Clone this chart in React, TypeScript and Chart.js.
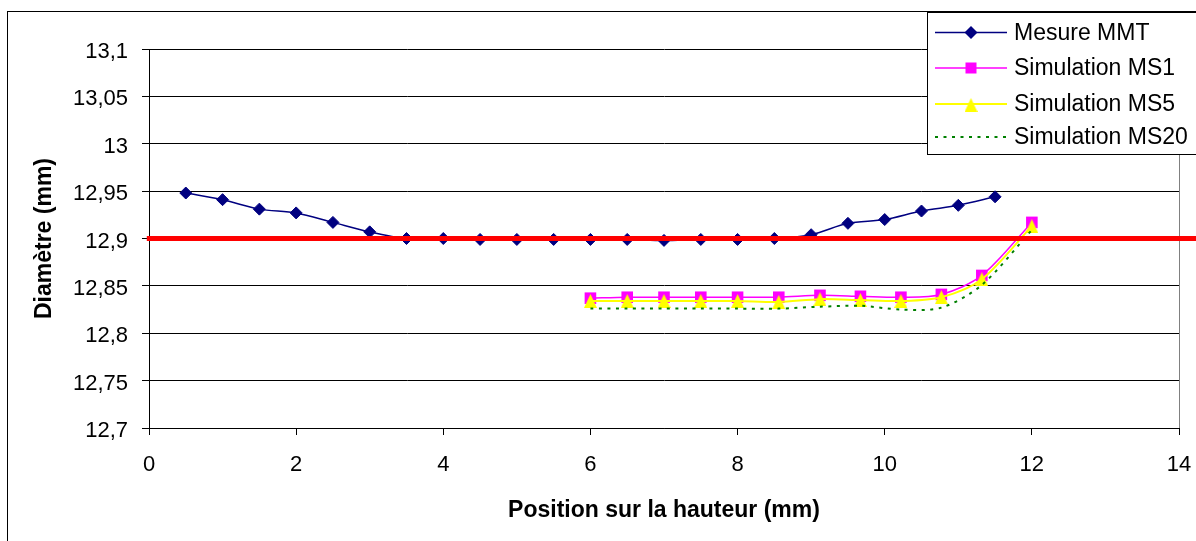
import React, { useEffect, useRef } from "react";
import { Chart, registerables } from "chart.js";

Chart.register(...registerables);

// ---- Data ----
const seriesLabels = ["Mesure MMT", "Simulation MS1", "Simulation MS5", "Simulation MS20"];
const xAxisTitle = "Position sur la hauteur (mm)";
const yAxisTitle = "Diamètre (mm)";

const mmtPositions = [0.5, 1, 1.5, 2, 2.5, 3, 3.5, 4, 4.5, 5, 5.5, 6, 6.5, 7, 7.5, 8, 8.5, 9, 9.5, 10, 10.5, 11, 11.5];
const mmtDiameters = [12.948, 12.941, 12.931, 12.927, 12.917, 12.907, 12.9, 12.9, 12.899, 12.899, 12.899, 12.899, 12.899, 12.898, 12.899, 12.899, 12.9, 12.904, 12.916, 12.92, 12.929, 12.935, 12.944];

const simPositions = [6, 6.5, 7, 7.5, 8, 8.56, 9.12, 9.67, 10.22, 10.77, 11.32, 12];
const ms1Diameters = [12.837, 12.838, 12.838, 12.838, 12.838, 12.838, 12.84, 12.839, 12.838, 12.841, 12.861, 12.917];
const ms5Diameters = [12.834, 12.834, 12.834, 12.834, 12.834, 12.833, 12.836, 12.835, 12.834, 12.838, 12.857, 12.913];
const ms20Diameters = [12.826, 12.826, 12.826, 12.826, 12.826, 12.826, 12.828, 12.829, 12.825, 12.827, 12.851, 12.909];

const referencePositions = [-0.03, 14.25];
const referenceDiameters = [12.9, 12.9];

const xTicks = [0, 2, 4, 6, 8, 10, 12, 14];
const yTicks = [12.7, 12.75, 12.8, 12.85, 12.9, 12.95, 13, 13.05, 13.1];

const FONT = "'Liberation Sans', Arial, sans-serif";

function toPoints(xs: number[], ys: number[]) {
  return xs.map((x, i) => ({ x, y: ys[i] }));
}

function makeTriangle(w: number, h: number, color: string) {
  const c = document.createElement("canvas");
  c.width = w;
  c.height = h;
  const ctx = c.getContext("2d")!;
  ctx.fillStyle = color;
  ctx.beginPath();
  ctx.moveTo(w / 2, 0);
  ctx.lineTo(w, h);
  ctx.lineTo(0, h);
  ctx.closePath();
  ctx.fill();
  return c;
}

const framePlugin = {
  id: "frame",
  beforeDatasetsDraw(chart: any) {
    const { ctx, chartArea } = chart;
    ctx.save();
    ctx.strokeStyle = "#808080";
    ctx.lineWidth = 1;
    ctx.beginPath();
    ctx.moveTo(Math.round(chartArea.right) + 0.5, chartArea.top);
    ctx.lineTo(Math.round(chartArea.right) + 0.5, chartArea.bottom);
    ctx.stroke();
    ctx.restore();
  },
  afterDraw(chart: any) {
    const { ctx } = chart;
    ctx.save();
    // outer chart border
    ctx.strokeStyle = "#000";
    ctx.lineWidth = 1;
    ctx.strokeRect(7.5, 11.5, 1300, 700);

    // legend
    const bx = 927.5, by = 12.5, bw = 400, bh = 142;
    ctx.fillStyle = "#fff";
    ctx.fillRect(bx, by, bw, bh);
    ctx.strokeStyle = "#000";
    ctx.strokeRect(bx, by, bw, bh);
    const rows = [32.5, 68, 104, 137];
    const datasets = chart.data.datasets.filter((d: any) => seriesLabels.includes(d.label));
    datasets.forEach((d: any, i: number) => {
      const y = rows[i];
      ctx.save();
      ctx.strokeStyle = d.borderColor;
      ctx.lineWidth = d.borderWidth;
      ctx.setLineDash(d.borderDash || []);
      ctx.beginPath();
      ctx.moveTo(935, y);
      ctx.lineTo(1007, y);
      ctx.stroke();
      ctx.restore();
      const cx = 971;
      ctx.fillStyle = d.pointBackgroundColor;
      if (d.pointStyle === "rectRot") {
        const r = 6.5;
        ctx.beginPath();
        ctx.moveTo(cx - r, y);
        ctx.lineTo(cx, y - r);
        ctx.lineTo(cx + r, y);
        ctx.lineTo(cx, y + r);
        ctx.closePath();
        ctx.fill();
      } else if (d.pointStyle === "rect") {
        ctx.fillRect(cx - 5.5, y - 5.5, 11, 11);
      } else if (d.pointStyle && typeof d.pointStyle === "object") {
        const img = d.pointStyle as HTMLCanvasElement;
        ctx.drawImage(img, cx - img.width / 2, y - img.height / 2 + 1);
      }
      ctx.fillStyle = "#000";
      ctx.font = `23px ${FONT}`;
      ctx.textBaseline = "middle";
      ctx.textAlign = "left";
      ctx.fillText(d.label, 1014, y + 1);
    });
    ctx.restore();
  },
};

function formatComma(v: number) {
  return String(parseFloat(Number(v).toFixed(3))).replace(".", ",");
}

function zeroPadding(scale: any) {
  scale.paddingLeft = 0;
  scale.paddingRight = 0;
  scale.paddingTop = 0;
  scale.paddingBottom = 0;
}

export default function App() {
  const ref = useRef<HTMLCanvasElement | null>(null);

  useEffect(() => {
    if (!ref.current) return;
    Chart.defaults.font.family = FONT;
    const tri = makeTriangle(13, 14, "#FFFF00");
    const chart = new Chart(ref.current, {
      type: "line",
      data: {
        datasets: [
          {
            label: seriesLabels[0],
            data: toPoints(mmtPositions, mmtDiameters),
            borderColor: "#000080",
            backgroundColor: "#000080",
            borderWidth: 1.5,
            pointStyle: "rectRot",
            pointRadius: 6,
            pointBorderWidth: 1,
            pointBackgroundColor: "#000080",
            pointBorderColor: "#000080",
            tension: 0.3,
            order: 5,
          },
          {
            label: seriesLabels[1],
            data: toPoints(simPositions, ms1Diameters),
            borderColor: "#FF00FF",
            backgroundColor: "#FF00FF",
            borderWidth: 1.5,
            pointStyle: "rect",
            pointRadius: 8.2,
            pointBorderWidth: 0,
            pointBackgroundColor: "#FF00FF",
            pointBorderColor: "#FF00FF",
            tension: 0.3,
            order: 4,
          },
          {
            label: seriesLabels[2],
            data: toPoints(simPositions, ms5Diameters),
            borderColor: "#FFFF00",
            backgroundColor: "#FFFF00",
            borderWidth: 2,
            pointStyle: tri as any,
            pointRadius: 6,
            pointBackgroundColor: "#FFFF00",
            pointBorderColor: "#FFFF00",
            tension: 0.3,
            order: 3,
          },
          {
            label: seriesLabels[3],
            data: toPoints(simPositions, ms20Diameters),
            borderColor: "#008000",
            backgroundColor: "#008000",
            borderWidth: 2,
            borderDash: [3, 5.5],
            pointRadius: 0,
            pointStyle: false as any,
            pointBackgroundColor: "#008000",
            tension: 0.3,
            order: 2,
          },
          {
            label: "reference",
            data: toPoints(referencePositions, referenceDiameters),
            borderColor: "#FF0000",
            borderWidth: 5,
            pointRadius: 0,
            tension: 0,
            clip: false as any,
            order: 1,
          },
        ],
      },
      options: {
        animation: false,
        responsive: false,
        maintainAspectRatio: false,
        layout: { padding: { left: 0, top: 49, right: 17, bottom: 0 } },
        plugins: {
          legend: { display: false },
          tooltip: { enabled: false },
          title: { display: false },
        },
        scales: {
          x: {
            type: "linear",
            min: 0,
            max: 14,
            afterBuildTicks: (scale: any) => {
              scale.ticks = xTicks.map((v) => ({ value: v }));
            },
            afterFit: (scale: any) => {
              scale.height = 113;
              zeroPadding(scale);
            },
            grid: {
              drawOnChartArea: false,
              drawTicks: true,
              tickLength: 7,
              tickColor: "#000",
              color: "#000",
            },
            border: { display: true, color: "#000", width: 1 },
            ticks: {
              color: "#000",
              font: { size: 22, family: FONT },
              padding: 17,
              maxRotation: 0,
              autoSkip: false,
              callback: (v: any) => formatComma(Number(v)),
            },
            title: {
              display: true,
              text: xAxisTitle,
              color: "#000",
              font: { size: 23, weight: "bold", family: FONT },
              padding: { top: 0, bottom: 17 },
            },
          },
          y: {
            type: "linear",
            min: 12.7,
            max: 13.1,
            afterBuildTicks: (scale: any) => {
              scale.ticks = yTicks.map((v) => ({ value: v }));
            },
            afterFit: (scale: any) => {
              scale.width = 149;
              zeroPadding(scale);
            },
            grid: {
              drawOnChartArea: true,
              drawTicks: true,
              tickLength: 7,
              tickColor: "#000",
              color: "#000",
              lineWidth: 1,
            },
            border: { display: true, color: "#000", width: 1 },
            ticks: {
              color: "#000",
              font: { size: 22, family: FONT },
              padding: 14,
              labelOffset: 3,
              autoSkip: false,
              callback: (v: any) => formatComma(Number(v)),
            },
            title: {
              display: true,
              text: yAxisTitle,
              color: "#000",
              font: { size: 23, weight: "bold", family: FONT },
              padding: { top: 31, bottom: 0 },
            },
          },
        },
      },
      plugins: [framePlugin],
    } as any);
    return () => chart.destroy();
  }, []);

  return (
    <div style={{ position: "absolute", left: 0, top: 0, width: 1196, height: 541, background: "#fff" }}>
      <canvas ref={ref} width={1196} height={541} style={{ display: "block" }} />
    </div>
  );
}
